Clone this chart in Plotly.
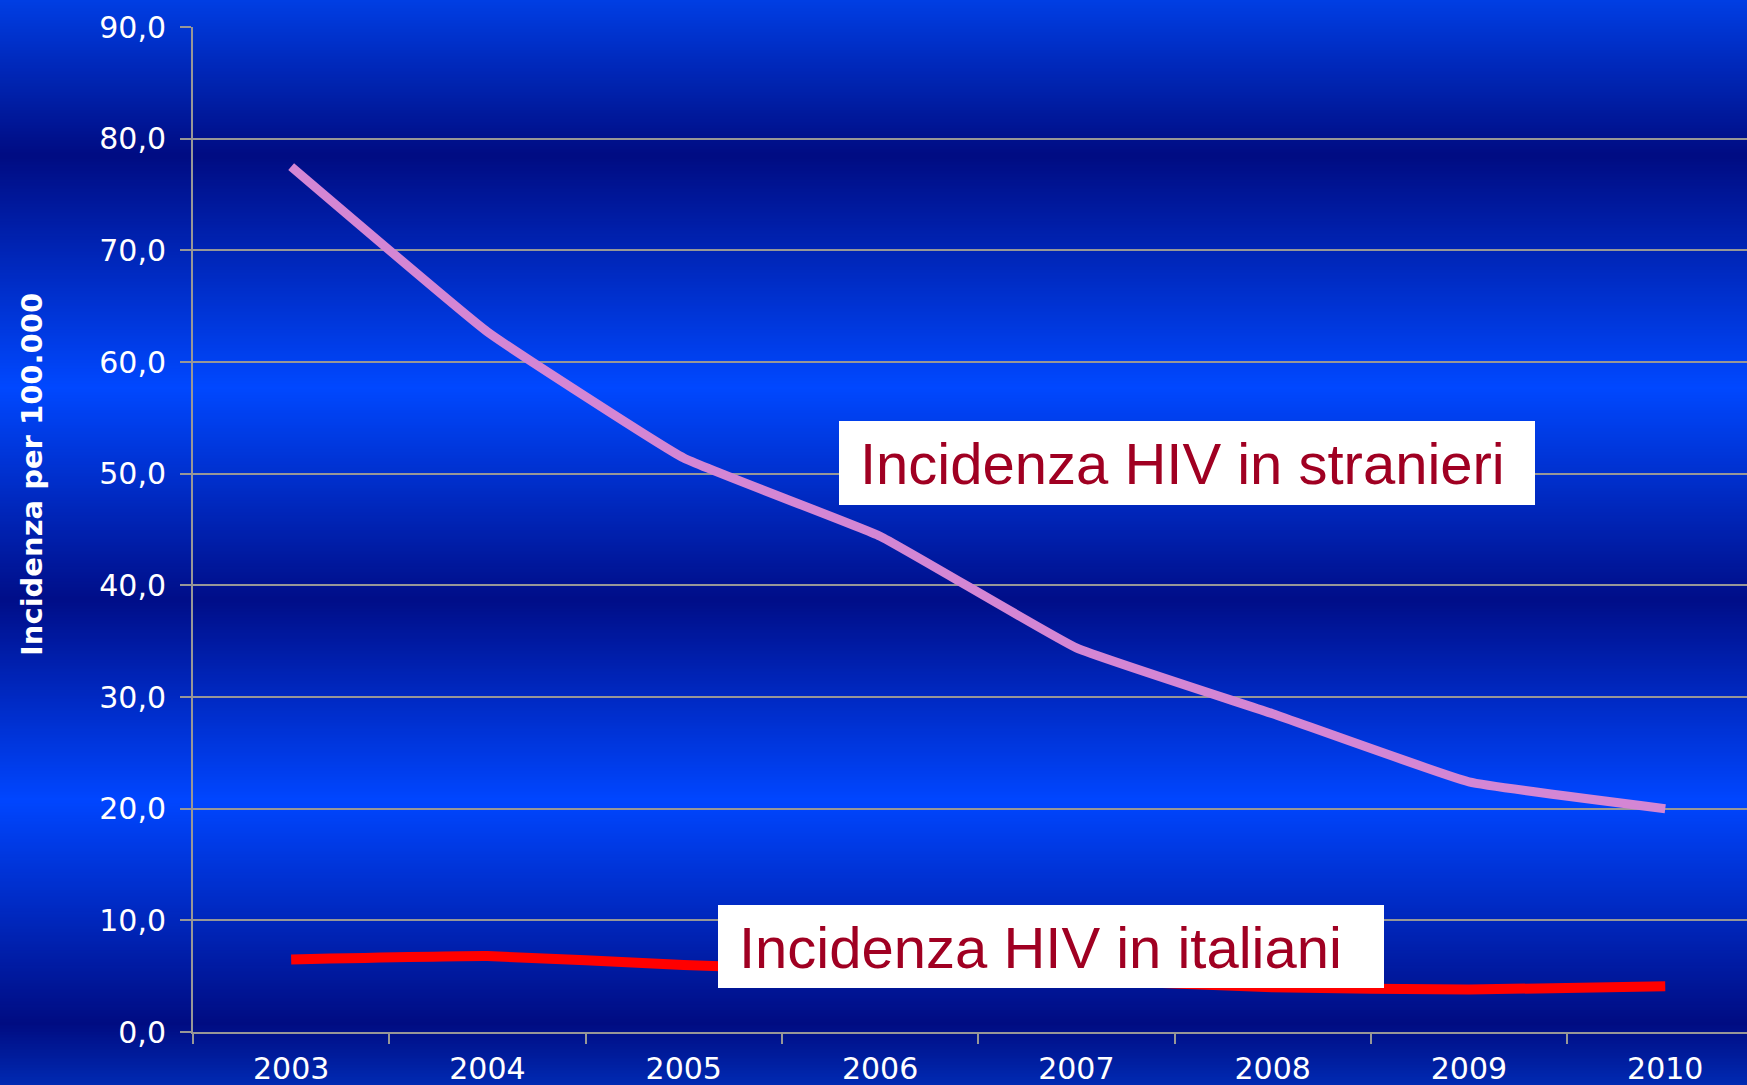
import plotly.graph_objects as go

# chart data
years = ['2003', '2004', '2005', '2006', '2007', '2008', '2009', '2010']
stranieri = [77.5, 62.7, 51.4, 44.4, 34.4, 28.5, 22.4, 20.0]
italiani = [6.5, 6.8, 6.0, 5.4, 4.7, 4.0, 3.8, 4.1]
y_title = 'Incidenza per 100.000'
label_stranieri = 'Incidenza HIV in stranieri'
label_italiani = 'Incidenza HIV in italiani'

# page geometry (pixels)
W, H = 1747, 1085
L, T, B = 193, 27, 53
PW = W - L
PH = H - T - B
CAT_W = 196.3


def px_x(x):
    return (x - L) / PW


def px_y(y):
    return (H - B - y) / PH


# banded blue background, (pixel y, rgb)
bg_stops = [(0, (0, 62, 228)), (156, (0, 12, 130)), (388, (0, 72, 255)),
            (600, (0, 14, 136)), (800, (0, 70, 255)), (1024, (0, 12, 130)),
            (1085, (0, 42, 178))]


def bg_color(y):
    for (y0, c0), (y1, c1) in zip(bg_stops[:-1], bg_stops[1:]):
        if y0 <= y <= y1:
            t = (y - y0) / (y1 - y0)
            c = [round(a + (b - a) * t) for a, b in zip(c0, c1)]
            return f'rgb({c[0]},{c[1]},{c[2]})'
    return 'rgb(0,42,178)'


shapes = []
step = 3
for y in range(0, H, step):
    shapes.append(dict(type='rect', xref='paper', yref='paper', layer='below',
                       x0=px_x(-2), x1=px_x(W + 2),
                       y0=px_y(y + step + 0.5), y1=px_y(y - 0.5),
                       fillcolor=bg_color(y + step / 2), line=dict(width=0)))

# white label boxes
for x0, y0, x1, y1 in [(839, 421, 1535, 505), (718, 905, 1384, 988)]:
    shapes.append(dict(type='rect', xref='paper', yref='paper', layer='above',
                       x0=px_x(x0), x1=px_x(x1), y0=px_y(y1), y1=px_y(y0),
                       fillcolor='white', line=dict(width=0)))

fig = go.Figure()
fig.add_trace(go.Scatter(x=years, y=stranieri, mode='lines',
                         line=dict(color='#d486d4', width=9, shape='spline', smoothing=0.3),
                         showlegend=False))
fig.add_trace(go.Scatter(x=years, y=italiani, mode='lines',
                         line=dict(color='#ff0000', width=10, shape='spline', smoothing=0.3),
                         showlegend=False))

grey = '#979797'
fig.update_layout(
    width=W, height=H,
    margin=dict(l=L, r=0, t=T, b=B, pad=0),
    paper_bgcolor='#0030c0', plot_bgcolor='rgba(0,0,0,0)',
    separators=',.',
    shapes=shapes,
    font=dict(family='DejaVu Sans', color='white'),
    annotations=[
        dict(text=y_title, xref='paper', yref='paper', x=px_x(32), y=px_y(475),
             textangle=-90, showarrow=False, xanchor='center', yanchor='middle',
             font=dict(family='DejaVu Sans', size=29, color='white', weight='bold')),
        dict(text=label_stranieri, xref='paper', yref='paper', x=px_x(858), y=px_y(463),
             showarrow=False, xanchor='left', yanchor='middle',
             font=dict(family='Liberation Sans', size=58, color='#a00022')),
        dict(text=label_italiani, xref='paper', yref='paper', x=px_x(737), y=px_y(947),
             showarrow=False, xanchor='left', yanchor='middle',
             font=dict(family='Liberation Sans', size=58, color='#a00022')),
    ],
)
fig.update_xaxes(type='category', range=[-0.5, -0.5 + PW / CAT_W],
                 tickson='boundaries', ticks='outside', ticklen=10, tickwidth=2,
                 tickcolor=grey, showline=True, linecolor=grey, linewidth=2,
                 showgrid=False, ticklabelstandoff=9,
                 tickfont=dict(size=30, color='white'))
fig.update_yaxes(range=[0, 90], dtick=10, tickformat='.1f', showgrid=True,
                 gridcolor=grey, gridwidth=2, showline=True, linecolor=grey,
                 linewidth=2, ticks='outside', ticklen=11, tickwidth=2,
                 tickcolor=grey, zeroline=False, ticklabelstandoff=8,
                 tickfont=dict(size=30, color='white'))

fig.write_html('out.html', config={'displayModeBar': False},
               post_script="document.body.style.margin='0';")
